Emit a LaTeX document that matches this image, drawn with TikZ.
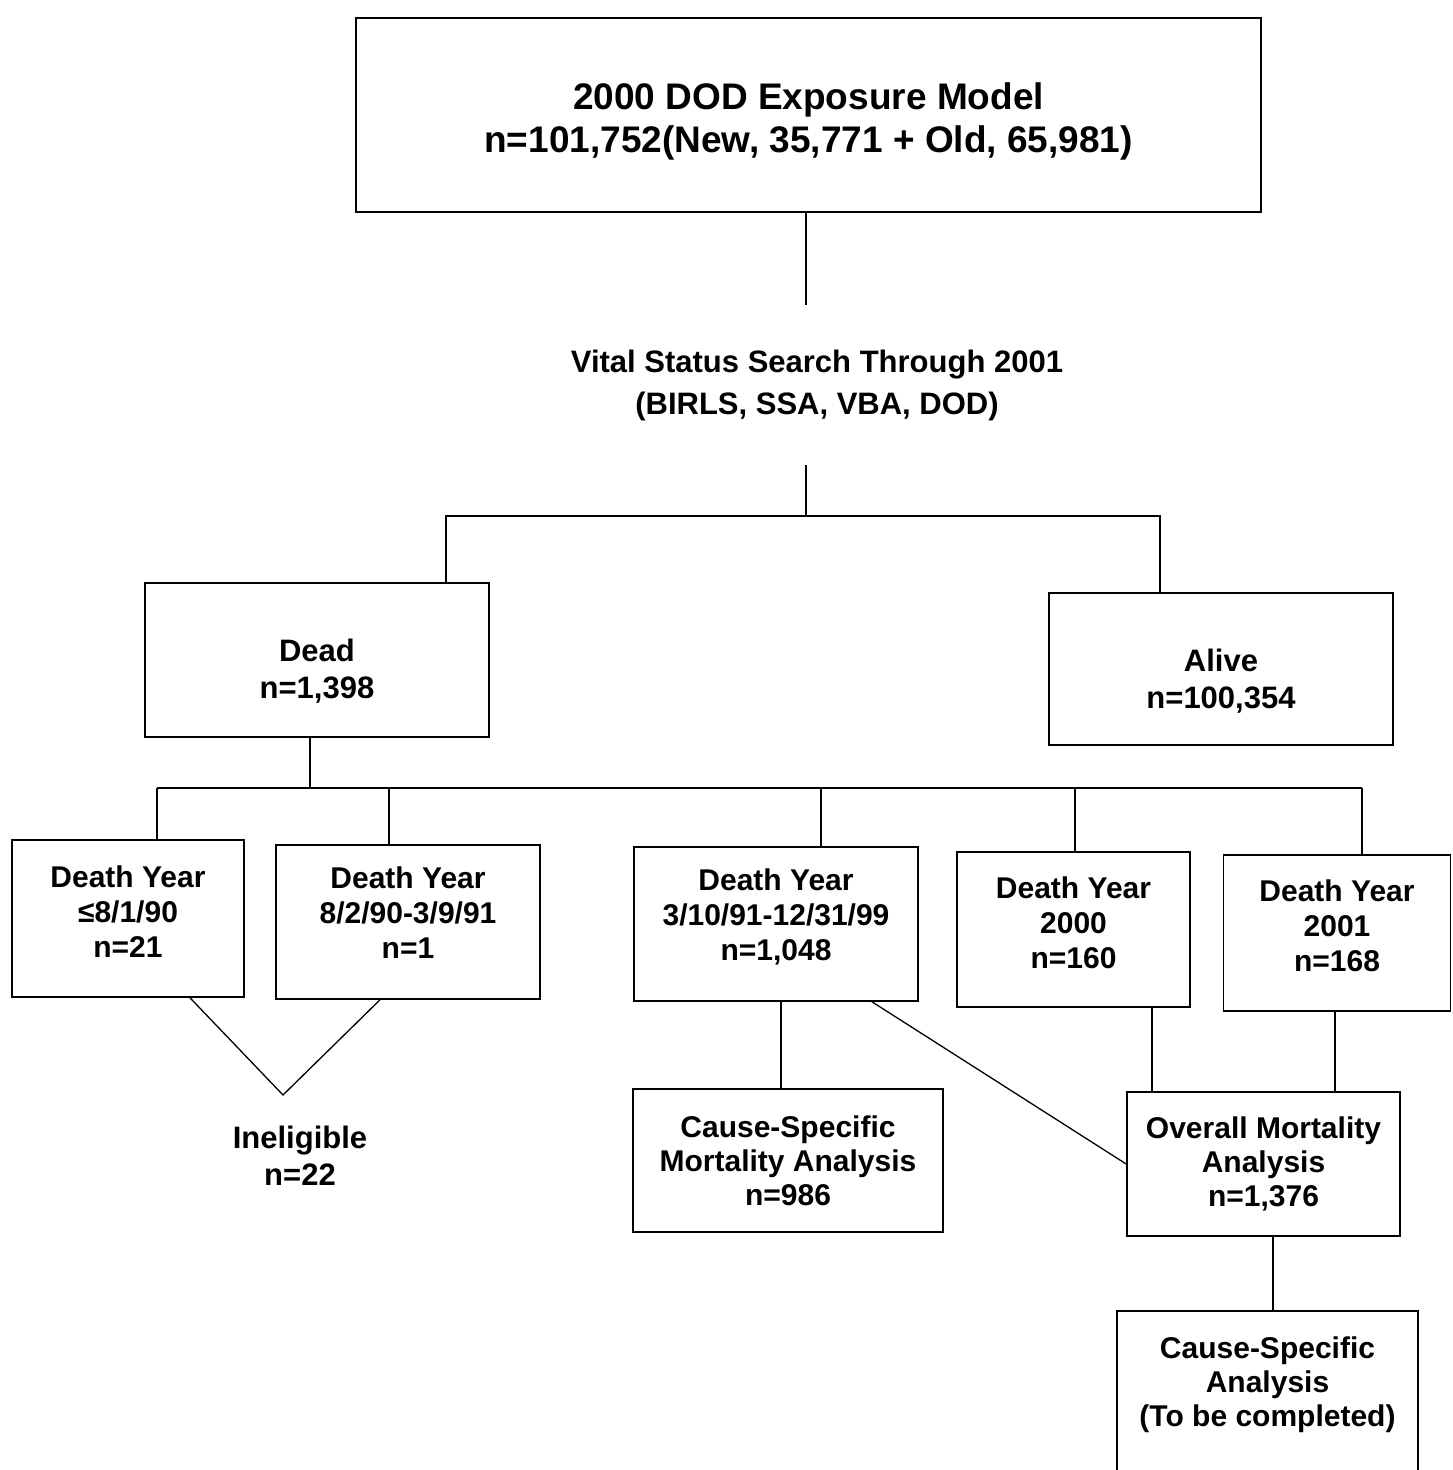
\documentclass[tikz,border=0pt]{standalone}
\usepackage{fontspec}
\setmainfont{Liberation Sans}

\newcommand{\downby}[1]{\rule{0pt}{#1pt}}
\newcommand{\upby}[1]{\rule[-#1pt]{0pt}{0pt}}

\begin{document}
\begin{tikzpicture}[x=1pt, y=-1pt, font=\bfseries\fontsize{30}{35}\selectfont,
                    box/.style={draw, line width=1.6pt, inner sep=0pt, align=center},
                    link/.style={line width=1.3pt}]
    \useasboundingbox (0,0) rectangle (1452,1470);
    \clip (0,0) rectangle (1452,1470);
    % top of the tree
    \node [box, minimum width=905, minimum height=194, font=\bfseries\fontsize{37}{43}\selectfont] (model) at (808.5,115)
        {\downby{40}2000 DOD Exposure Model\\n=101,752(New, 35,771 + Old, 65,981)};
    \node [align=center, inner ysep=44, font=\bfseries\fontsize{31}{42}\selectfont] (vital) at (817,385)
        {Vital Status Search Through 2001\\(BIRLS, SSA, VBA, DOD)};
    \node [box, minimum width=344, minimum height=154, font=\bfseries\fontsize{31}{37}\selectfont] (dead) at (317,660) {\downby{45}Dead\\n=1,398};
    \node [box, minimum width=344, minimum height=152, font=\bfseries\fontsize{31}{37}\selectfont] (alive) at (1221,669) {\downby{47}Alive\\n=100,354};
    % death years
    \node [box, minimum width=232, minimum height=157] (dy1) at (128,918.5) {Death Year\\≤8/1/90\\n=21\upby{13}};
    \node [box, minimum width=264, minimum height=154] (dy2) at (408,922) {Death Year\\8/2/90-3/9/91\\n=1\upby{18}};
    \node [box, minimum width=284, minimum height=154] (dy3) at (776,924) {Death Year\\3/10/91-12/31/99\\n=1,048\upby{18}};
    \node [box, minimum width=233, minimum height=155] (dy4) at (1073.5,929.5) {Death Year\\2000\\n=160\upby{14}};
    \node [box, minimum width=227, minimum height=156] (dy5) at (1337,933) {Death Year\\2001\\n=168\upby{14}};
    % analyses
    \node [align=center, inner ysep=29, font=\bfseries\fontsize{31}{37}\selectfont] (inel) at (300,1156) {Ineligible\\n=22};
    \node [box, minimum width=310, minimum height=143, font=\bfseries\fontsize{30}{34}\selectfont] (csm) at (788,1160.5)
        {Cause-Specific\\Mortality Analysis\\n=986};
    \node [box, minimum width=273, minimum height=144, font=\bfseries\fontsize{30}{34}\selectfont] (overall) at (1263.5,1164)
        {Overall Mortality\\Analysis\\n=1,376};
    \node [box, minimum width=301, anchor=north, inner ysep=26, text depth=120, font=\bfseries\fontsize{30}{34}\selectfont] (csa) at (1267.5,1310)
        {Cause-Specific\\Analysis\\(To be completed)};

    \coordinate (fork) at (806,516);
    \coordinate (bus) at (310,788);
    \coordinate (join) at (283,1095);

    \draw [link] (806,0 |- model.south) -- (806,0 |- vital.north);
    \draw [link] (806,0 |- vital.south) -- (fork);
    \draw [link] (446,0 |- dead.north) |- (fork) -| (1160,0 |- alive.north);
    \draw [link] (310,0 |- dead.south) -- (bus);
    \draw [link] (157,788) -- (1362,788);
    \foreach \n/\x in {dy1/157, dy2/389, dy3/821, dy4/1075, dy5/1362} {%
        \draw [link] (\x,788) -- (\x,0 |- \n.north);
    }
    \draw [link] (190,0 |- dy1.south) -- (join) -- (380,0 |- dy2.south);
    \draw [link] (781,0 |- dy3.south) -- (781,0 |- csm.north);
    \draw [link] (872,0 |- dy3.south) -- (overall.west);
    \draw [link] (1152,0 |- dy4.south) -- (1152,0 |- overall.north);
    \draw [link] (1335,0 |- dy5.south) -- (1335,0 |- overall.north);
    \draw [link] (1273,0 |- overall.south) -- (1273,0 |- csa.north);
\end{tikzpicture}
\end{document}
